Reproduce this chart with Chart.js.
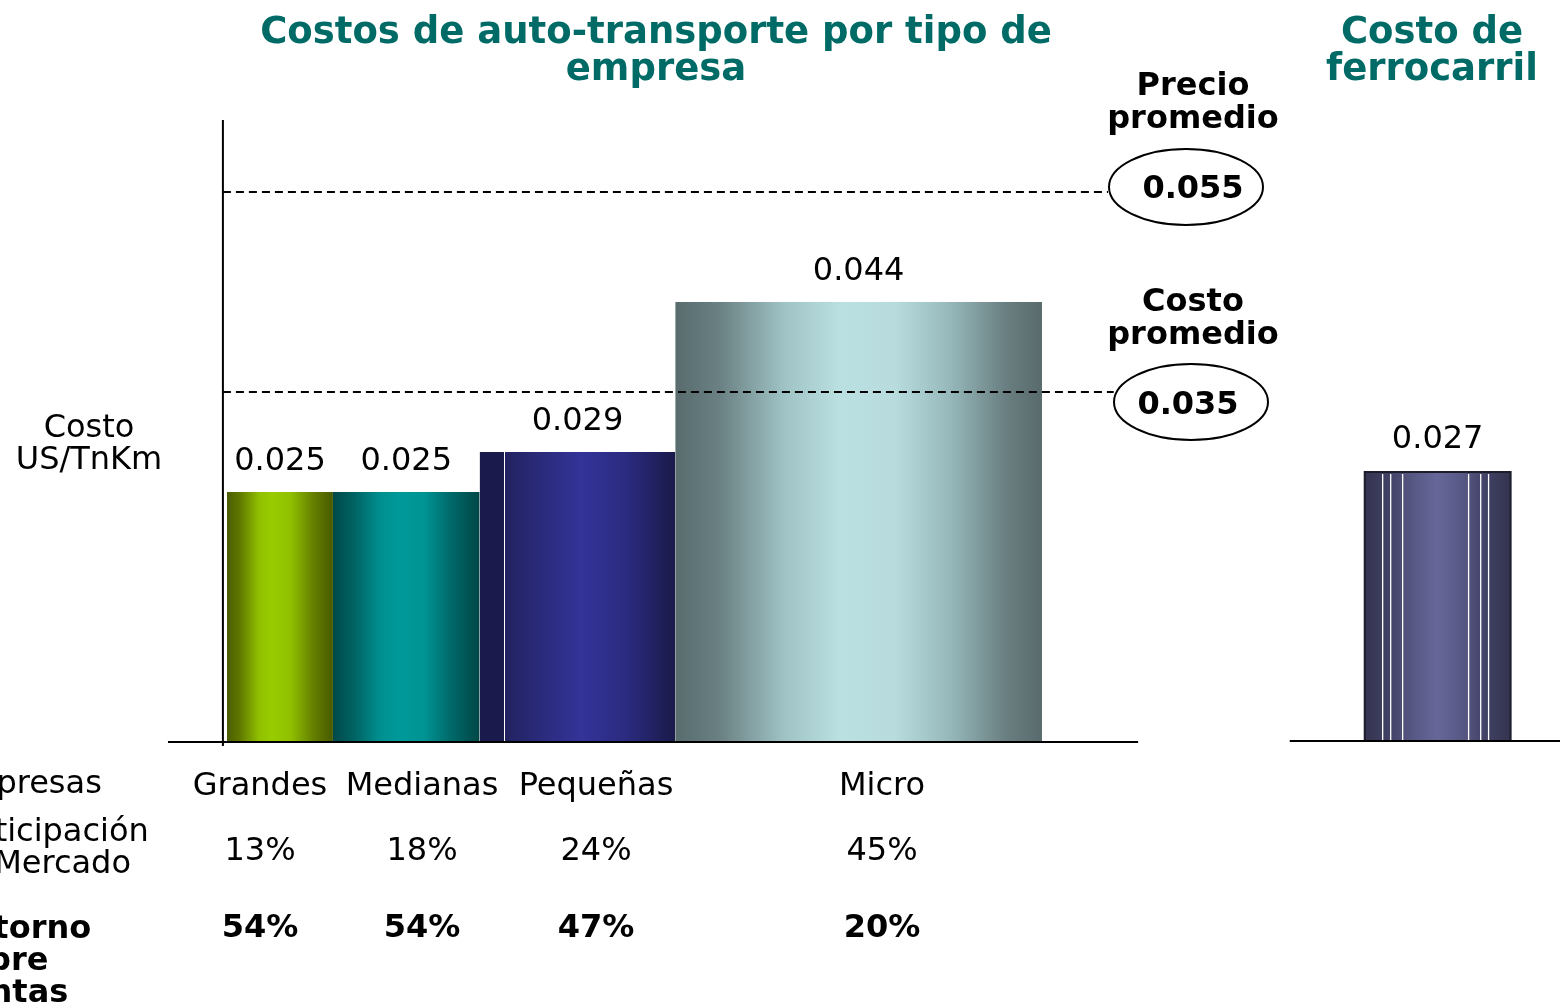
<!DOCTYPE html>
<html><head><meta charset="utf-8">
<script src="https://cdn.jsdelivr.net/npm/chart.js@4.4.1/dist/chart.umd.min.js"></script>
<style>html,body{margin:0;padding:0;background:#fff;overflow:hidden}#wrap{width:1560px;height:1004px;position:relative}canvas{display:block}</style>
</head><body><div id="wrap"><canvas id="c" width="1560" height="1004"></canvas></div>
<script>
// ---------- DATA ----------
const categories = ['Grandes', 'Medianas', 'Pequeñas', 'Micro'];
const marketShare = [13, 18, 24, 45];            // % participación en mercado (bar widths)
const costValues = [0.025, 0.025, 0.029, 0.044];  // US/TnKm
const returnOnSales = [54, 54, 47, 20];           // % retorno sobre ventas
const railCost = [0.027];                          // costo de ferrocarril
const avgPrice = [0.055];                          // precio promedio
const avgCost = [0.035];                           // costo promedio

// ---------- LAYOUT / STYLE ----------
const X_MIN = -27.85, X_MAX = 163.56, Y_MIN = -0.0262, Y_MAX = 0.0742;
const RAIL_X0 = 139.6, RAIL_X1 = 157.5;
const RAIL_WHITE = [0.123, 0.178, 0.26, 0.712, 0.795, 0.849];
const AXIS_X = -0.5, AXIS_TOP = 0.0622;
const BASE_MAIN = [-7.24, 111.8], BASE_RAIL = [130.4, X_MAX];
const DASH_END = [108.1, 108.8];
const TEAL = '#006b66';
const FONT = '"DejaVu Sans", Verdana, sans-serif';
const barStops = [
  [[0,'#4a5c00'],[0.12,'#5f7800'],[0.3,'#8fbf00'],[0.42,'#99cc00'],[0.6,'#90c000'],[0.82,'#647e00'],[1,'#485a00']],
  [[0,'#004848'],[0.15,'#006464'],[0.32,'#008f8f'],[0.45,'#009999'],[0.62,'#009494'],[0.8,'#006a6a'],[1,'#004646']],
  [[0,'#1b1a4d'],[0.124,'#1b1a4d'],[0.1245,'#ffffff'],[0.129,'#ffffff'],[0.1295,'#222260'],[0.3,'#2a2a7a'],[0.52,'#333399'],[0.75,'#2b2b80'],[1,'#1a1a4a']],
  [[0,'#586c6e'],[0.12,'#6a8082'],[0.3,'#a0c4c6'],[0.45,'#bbe0e2'],[0.6,'#b8dcde'],[0.75,'#96b8ba'],[0.9,'#6a7f81'],[1,'#586a6c']]
];
const railStops = [[0,'#34344f'],[0.15,'#3f3f62'],[0.35,'#5a5a88'],[0.5,'#666699'],[0.65,'#5a5a88'],[0.85,'#3f3f62'],[1,'#34344f']];
const tableX = [260, 422, 596, 882];

function grad(stops) {
  return (ctx) => {
    const ch = ctx.chart, xs = ch.scales.x;
    const ds = ch.data.datasets[ctx.datasetIndex];
    if (!xs || !ch.chartArea) return stops[0][1];
    const x0 = xs.getPixelForValue(ds.data[0].x), x1 = xs.getPixelForValue(ds.data[ds.data.length - 1].x);
    const g = ch.ctx.createLinearGradient(x0, 0, x1, 0);
    stops.forEach(s => g.addColorStop(s[0], s[1]));
    return g;
  };
}
const line = (data, color, width, dash) => ({data, borderColor: color, borderWidth: width, borderDash: dash || [], pointRadius: 0, fill: false, tension: 0, order: 0, borderCapStyle: 'butt'});

const datasets = [];
// axis lines
datasets.push(line([{x: AXIS_X, y: -0.0004}, {x: AXIS_X, y: AXIS_TOP}], '#000', 2));
datasets.push(line([{x: BASE_MAIN[0], y: 0}, {x: BASE_MAIN[1], y: 0}], '#000', 2));
datasets.push(line([{x: BASE_RAIL[0], y: 0.0001}, {x: BASE_RAIL[1], y: 0.0001}], '#000', 2));
// dashed reference lines
datasets.push(line([{x: AXIS_X, y: avgPrice[0]}, {x: DASH_END[0], y: avgPrice[0]}], '#000', 2, [8, 5]));
datasets.push(line([{x: AXIS_X, y: avgCost[0]}, {x: DASH_END[1], y: avgCost[0]}], '#000', 2, [8, 5]));
// rail white stripes
RAIL_WHITE.forEach(f => {
  const x = RAIL_X0 + f * (RAIL_X1 - RAIL_X0);
  datasets.push(line([{x, y: 0.0002}, {x, y: railCost[0] - 0.0002}], '#ffffff', 1.3));
});
// truck bars (variable width)
let cum = 0;
const barCenters = [];
marketShare.forEach((w, i) => {
  const x0 = cum, x1 = cum + w; cum = x1;
  barCenters.push((x0 + x1) / 2);
  datasets.push({data: [{x: x0, y: costValues[i]}, {x: x1, y: costValues[i]}], borderColor: 'rgba(0,0,0,0)', borderWidth: 0,
    pointRadius: 0, fill: 'origin', tension: 0, backgroundColor: grad(barStops[i]), order: 1});
});
// rail bar
datasets.push({data: [{x: RAIL_X0, y: 0}, {x: RAIL_X0, y: railCost[0]}, {x: RAIL_X1, y: railCost[0]}, {x: RAIL_X1, y: 0}],
  borderColor: '#1c1c2c', borderWidth: 2, pointRadius: 0, fill: 'origin', tension: 0, backgroundColor: grad(railStops), order: 1});

function txt(c, s, x, y, font, color, align) {
  c.font = font; c.fillStyle = color || '#000'; c.textAlign = align || 'center'; c.textBaseline = 'middle';
  c.fillText(s, x, y);
}
const textPlugin = {
  id: 'texts',
  afterDraw(ch) {
    const c = ch.ctx, xs = ch.scales.x, ys = ch.scales.y;
    c.save();
    const B37 = 'bold 37px ' + FONT, B32 = 'bold 32px ' + FONT, R32 = '32px ' + FONT;
    txt(c, 'Costos de auto-transporte por tipo de', 656, 33, B37, TEAL);
    txt(c, 'empresa', 656, 70, B37, TEAL);
    txt(c, 'Costo de', 1432, 33, B37, TEAL);
    txt(c, 'ferrocarril', 1432, 70, B37, TEAL);
    txt(c, 'Precio', 1193, 87, B32);
    txt(c, 'promedio', 1193, 120, B32);
    txt(c, 'Costo', 1193, 303, B32);
    txt(c, 'promedio', 1193, 336, B32);
    // ellipses
    c.lineWidth = 2; c.strokeStyle = '#000';
    c.beginPath(); c.ellipse(1186, 187, 77, 38, 0, 0, Math.PI * 2); c.stroke();
    c.beginPath(); c.ellipse(1191, 402, 77, 38, 0, 0, Math.PI * 2); c.stroke();
    txt(c, avgPrice[0].toFixed(3), 1193, 190, B32);
    txt(c, avgCost[0].toFixed(3), 1188, 406, B32);
    // y label
    txt(c, 'Costo', 89, 429, R32);
    txt(c, 'US/TnKm', 89, 461, R32);
    // value labels
    costValues.forEach((v, i) => {
      txt(c, v.toFixed(3), xs.getPixelForValue(barCenters[i]), ys.getPixelForValue(v) - 30, R32);
    });
    txt(c, railCost[0].toFixed(3), xs.getPixelForValue((RAIL_X0 + RAIL_X1) / 2), ys.getPixelForValue(railCost[0]) - 32, R32);
    // table
    categories.forEach((s, i) => txt(c, s, tableX[i], 787, R32));
    marketShare.forEach((s, i) => txt(c, s + '%', tableX[i], 852, R32));
    returnOnSales.forEach((s, i) => txt(c, s + '%', tableX[i], 929, B32));
    txt(c, 'Empresas', -55, 785, R32, '#000', 'left');
    txt(c, 'Participación', -56, 833, R32, '#000', 'left');
    txt(c, 'en Mercado', -56, 865, R32, '#000', 'left');
    txt(c, 'Retorno', -53, 930, B32, '#000', 'left');
    txt(c, 'sobre', -53, 962, B32, '#000', 'left');
    txt(c, 'ventas', -53, 994, B32, '#000', 'left');
    c.restore();
  }
};

new Chart(document.getElementById('c'), {
  type: 'line',
  data: {datasets},
  options: {
    responsive: false, animation: false, devicePixelRatio: 1,
    layout: {padding: 0},
    plugins: {legend: {display: false}, tooltip: {enabled: false}, title: {display: false}},
    scales: {
      x: {type: 'linear', display: false, min: X_MIN, max: X_MAX},
      y: {type: 'linear', display: false, min: Y_MIN, max: Y_MAX}
    },
    elements: {line: {spanGaps: true}}
  },
  plugins: [textPlugin]
});
</script>
</body></html>
